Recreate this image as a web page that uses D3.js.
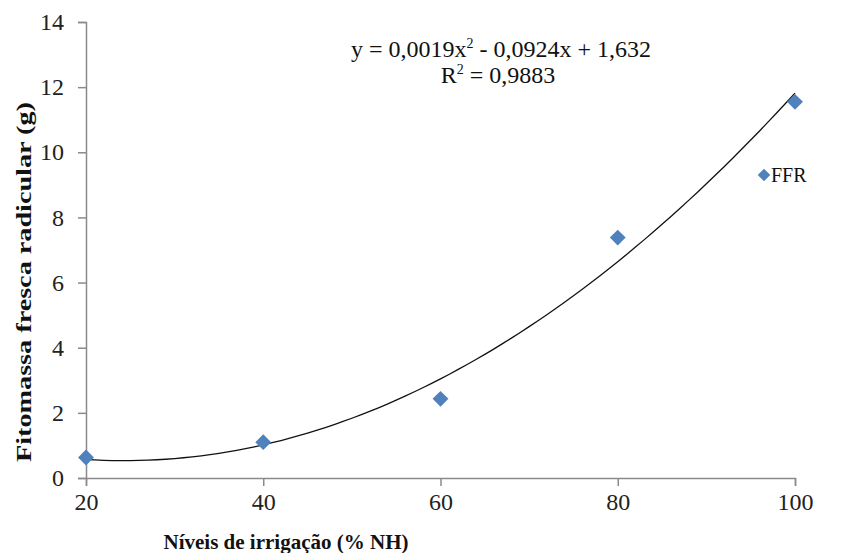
<!DOCTYPE html>
<html>
<head>
<meta charset="utf-8">
<script src="https://cdn.jsdelivr.net/npm/d3@7"></script>
<style>
  body { margin: 0; background: #fff; }
  svg text { font-family: "Liberation Serif", "Times New Roman", serif !important; }
</style>
</head>
<body>
<div id="chart"></div>
<script>
// data
const niveis = [20, 40, 60, 80, 100];
const ffr = [0.63, 1.1, 2.43, 7.38, 11.55];
const xTicks = [20, 40, 60, 80, 100];
const yTicks = [0, 2, 4, 6, 8, 10, 12, 14];

const width = 859, height = 553;
const margin = {top: 22, right: 64, bottom: 75, left: 86};

const svg = d3.select("#chart").append("svg")
    .attr("width", width)
    .attr("height", height);

const x = d3.scaleLinear().domain([20, 100]).range([margin.left, width - margin.right]);
const y = d3.scaleLinear().domain([0, 14]).range([height - margin.bottom, margin.top]);

// axes
const xAxis = svg.append("g")
    .attr("transform", "translate(0," + y(0) + ")")
    .call(d3.axisBottom(x).tickValues(xTicks).tickSize(8).tickPadding(7));
const yAxis = svg.append("g")
    .attr("transform", "translate(" + x(20) + ",0)")
    .call(d3.axisLeft(y).tickValues(yTicks).tickSize(8).tickPadding(14));

[xAxis, yAxis].forEach(function (g) {
    g.attr("font-family", "Liberation Serif").attr("font-size", 24);
    g.select(".domain").attr("stroke", "#8a8a8a").attr("stroke-width", 1.5);
    g.selectAll(".tick line").attr("stroke", "#8a8a8a").attr("stroke-width", 1.5);
    g.selectAll(".tick text").attr("fill", "#222");
});

// polynomial (2nd order) trend line, least squares fit of the points
function quadFit(xs, ys) {
    const m = d3.mean(xs);
    const t = xs.map(v => v - m);
    const n = xs.length;
    const s2 = d3.sum(t, v => v * v), s3 = d3.sum(t, v => v * v * v), s4 = d3.sum(t, v => v ** 4);
    const sy = d3.sum(ys), sty = d3.sum(t, (v, i) => v * ys[i]), st2y = d3.sum(t, (v, i) => v * v * ys[i]);
    // solve 3x3 normal equations with Cramer's rule
    const M = [[n, 0, s2], [0, s2, s3], [s2, s3, s4]], R = [sy, sty, st2y];
    const det = a => a[0][0] * (a[1][1] * a[2][2] - a[1][2] * a[2][1])
        - a[0][1] * (a[1][0] * a[2][2] - a[1][2] * a[2][0])
        + a[0][2] * (a[1][0] * a[2][1] - a[1][1] * a[2][0]);
    const D = det(M);
    const sol = [0, 1, 2].map(function (k) {
        const Mk = M.map((row, i) => row.map((c, j) => j === k ? R[i] : c));
        return det(Mk) / D;
    });
    return v => sol[0] + sol[1] * (v - m) + sol[2] * (v - m) * (v - m);
}
const fit = quadFit(niveis, ffr);
const curvePts = d3.range(20, 100.5, 1).map(v => [v, fit(v)]);
svg.append("path")
    .datum(curvePts)
    .attr("fill", "none")
    .attr("stroke", "#111")
    .attr("stroke-width", 1.3)
    .attr("d", d3.line().x(d => x(d[0])).y(d => y(d[1])));

// points
const diamond = d3.symbol().type(d3.symbolDiamond2).size(160);
svg.selectAll("path.pt")
    .data(niveis)
    .enter()
    .append("path")
    .attr("class", "pt")
    .attr("d", diamond)
    .attr("transform", (d, i) => "translate(" + x(d) + "," + y(ffr[i]) + ")")
    .attr("fill", "#4F81BD");

// equation
svg.append("text")
    .attr("x", 501).attr("y", 57)
    .attr("text-anchor", "middle")
    .attr("font-size", 24)
    .attr("fill", "#111")
    .html("y = 0,0019x<tspan dy='-9' font-size='14'>2</tspan><tspan dy='9'> - 0,0924x + 1,632</tspan>");
svg.append("text")
    .attr("x", 498).attr("y", 83)
    .attr("text-anchor", "middle")
    .attr("font-size", 24)
    .attr("fill", "#111")
    .html("R<tspan dy='-9' font-size='14'>2</tspan><tspan dy='9'> = 0,9883</tspan>");

// legend
const lg = svg.append("g").attr("transform", "translate(764,175)");
lg.append("path")
    .attr("d", d3.symbol().type(d3.symbolDiamond2).size(100))
    .attr("fill", "#4F81BD");
lg.append("text")
    .attr("x", 7).attr("y", 7)
    .attr("font-size", 20)
    .attr("fill", "#111")
    .text("FFR");

// axis titles
svg.append("text")
    .attr("x", 286).attr("y", 549)
    .attr("text-anchor", "middle")
    .attr("font-size", 22)
    .attr("font-weight", "bold")
    .attr("textLength", 245)
    .attr("lengthAdjust", "spacingAndGlyphs")
    .attr("fill", "#111")
    .text("Níveis de irrigação (% NH)");
svg.append("text")
    .attr("transform", "translate(31,282) rotate(-90)")
    .attr("text-anchor", "middle")
    .attr("font-size", 22)
    .attr("font-weight", "bold")
    .attr("textLength", 360)
    .attr("lengthAdjust", "spacingAndGlyphs")
    .attr("fill", "#111")
    .text("Fitomassa fresca  radicular (g)");
</script>
</body>
</html>
